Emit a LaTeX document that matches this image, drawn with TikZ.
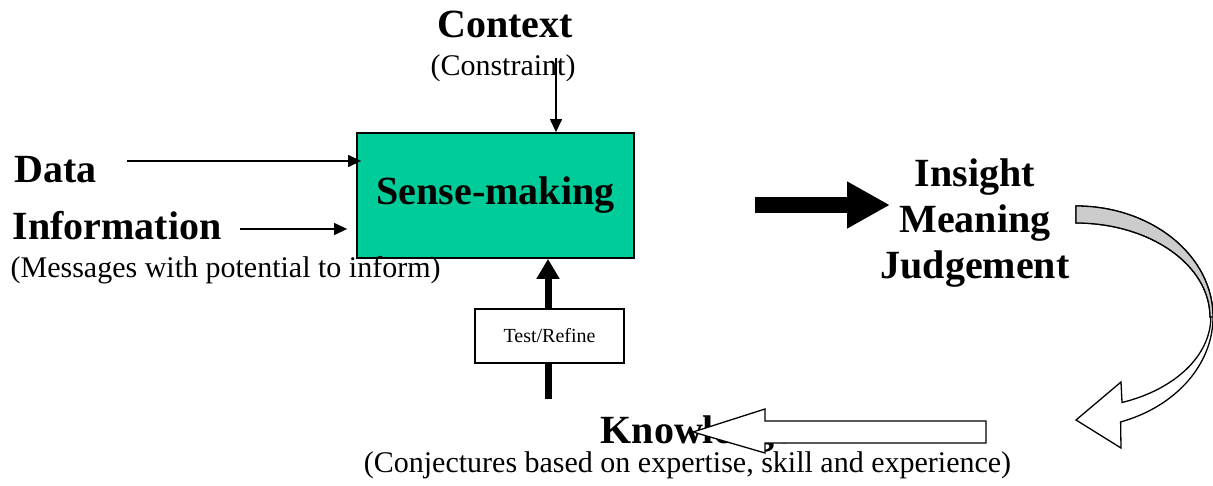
\documentclass[tikz,border=0pt]{standalone}
\usepackage{fontspec}
\setmainfont{Liberation Serif}
\usetikzlibrary{arrows.meta, positioning, calc}
\definecolor{cgreen}{HTML}{00CC99}
\definecolor{cshade}{HTML}{CCCCCC}
\tikzset{
  every picture/.style={x=1pt, y=1pt, line width=1.3pt},
  head/.style={font=\fontsize{40}{46}\selectfont\bfseries, inner sep=0pt},
  note/.style={font=\fontsize{30}{34}\selectfont, inner sep=0pt},
  arrow/.style={-{Triangle[length=13pt, width=12pt]}, line width=1.3pt},
  fat/.style={-{Triangle[length=20pt, width=22pt]}, line width=7pt},
  block/.style={draw=black, line width=1.3pt, line join=miter},
}

\begin{document}
\begin{tikzpicture}
  \useasboundingbox (0,0) rectangle (1213,485);
  % the central box and what feeds it
  \node[draw, fill=cgreen, line width=1.8pt, minimum width=277pt, minimum height=125pt,
        head, inner sep=0pt] (sense) at (495.5,289.5) {Sense-making};
  \node[head, anchor=base] (context) at (505,447) {Context};
  \node[note, anchor=base] (constraint) at (503,409) {(Constraint)};
  \coordinate (ctxfrom) at (556,427);
  \draw[arrow] (ctxfrom) -- (ctxfrom |- sense.north);

  \node[head, anchor=base west] (data) at (14,302) {Data};
  \node[head, anchor=base west] (info) at (12,245) {Information};
  \node[note, anchor=base west] (messages) at (10,207) {(Messages with potential to inform)};
  \coordinate (datafrom) at (127,324);
  \coordinate (infofrom) at (240,256);
  \draw[arrow] (datafrom) -- ($(datafrom -| sense.west)+(5,0)$);
  \draw[arrow] (infofrom) -- ($(infofrom -| sense.west)+(-9,0)$);

  % test / refine loop from below
  \node[draw, fill=white, minimum width=149pt, minimum height=54pt,
        font=\fontsize{20}{24}\selectfont] (test) at (549.5,149) {Test/Refine};
  \coordinate (testfoot) at (548,86);
  \draw[line width=7pt] (testfoot) -- (testfoot |- test.south);
  \draw[fat] (testfoot |- test.north) -- (testfoot |- sense.south);

  % outcome
  \coordinate (bigfrom) at (755,280);
  \coordinate (bigto) at (890,280);
  \draw[-{Triangle[length=43pt, width=44pt]}, line width=16pt] (bigfrom) -- (bigto);
  \node[head, align=center] (insight) at (975,262) {Insight\\Meaning\\Judgement};

  % curved block arrow back down
  \draw[block, fill=white] (1076,279) arc[start angle=90, end angle=-71, x radius=137, y radius=111]
    -- (1121,37) -- (1076,65) -- (1121,103) -- (1122,82.5)
    arc[start angle=-70, end angle=0, x radius=135, y radius=91]
    -- (1210,168) arc[start angle=0, end angle=90, x radius=134, y radius=94] -- cycle;
  \draw[block, fill=cshade] (1076,279) arc[start angle=90, end angle=0, x radius=137, y radius=111]
    -- (1210,168) arc[start angle=0, end angle=90, x radius=134, y radius=94] -- cycle;

  % knowledge, partly hidden by the hollow arrow
  \node[head, anchor=base west] (knowledge) at (600,42) {Knowledge};
  \node[note, anchor=base] (conjectures) at (687.5,13) {(Conjectures based on expertise, skill and experience)};
  \draw[block, fill=white] (693,53) -- (765,76) -- (765,64) -- (986,64) -- (986,42)
    -- (765,42) -- (765,32) -- cycle;
\end{tikzpicture}
\end{document}
